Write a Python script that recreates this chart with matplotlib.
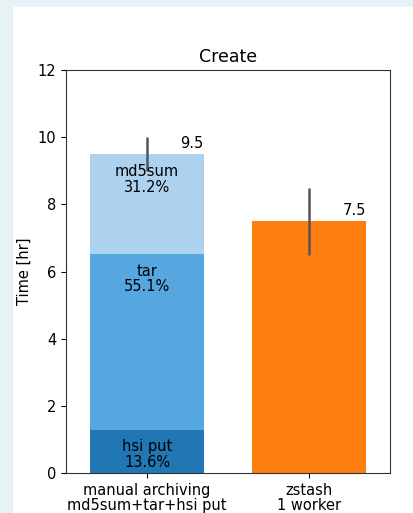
import matplotlib.pyplot as plt
from matplotlib.patches import Rectangle

# time breakdown for manual archiving, total vs zstash
categories = ['manual archiving\nmd5sum+tar+hsi put', 'zstash\n1 worker']
totals = [9.5, 7.5]
errors = [0.5, 1.0]
steps = ['hsi put', 'tar', 'md5sum']
step_pct = [13.6, 55.1, 31.2]
step_colors = ['#2077b4', '#56a6e0', '#acd2f0']

fs = 10.5

fig = plt.figure(figsize=(4.13, 5.13), dpi=100)
fig.patch.set_facecolor('#e6f2f5')
fig.add_artist(Rectangle((13 / 413, 0), 1, 1 - 7 / 513, transform=fig.transFigure,
                         facecolor='white', edgecolor='none', zorder=-10))

ax = fig.add_axes([66 / 413, 40 / 513, 324 / 413, 403 / 513])

width = 0.7
bottom = 0
for name, pct, c in zip(steps, step_pct, step_colors):
    h = totals[0] * pct / 100
    ax.bar(0, h, width, bottom=bottom, color=c)
    ax.annotate('%s\n%.1f%%' % (name, pct), (0, bottom + h), xytext=(0, -7),
                textcoords='offset points', ha='center', va='top', fontsize=fs,
                linespacing=1.05)
    bottom += h

ax.bar(1, totals[1], width, color='#ff7f0e')
ax.errorbar([0, 1], totals, yerr=errors, fmt='none', ecolor='#555555', elinewidth=1.8)

for i, t in enumerate(totals):
    ax.text(i + width / 2, t + 0.1, '%.1f' % t, ha='right', va='bottom', fontsize=fs)

ax.set_xlim(-0.5, 1.5)
ax.set_ylim(0, 12)
ax.set_xticks([0, 1])
ax.set_xticklabels(categories, fontsize=fs, linespacing=1.05)
ax.set_yticks(range(0, 13, 2))
ax.tick_params(labelsize=fs)
ax.set_ylabel('Time [hr]', fontsize=fs)
ax.set_title('Create', fontsize=12.5)
for s in ax.spines.values():
    s.set_color('#333333')

fig.savefig('out.png', dpi=100, facecolor=fig.get_facecolor())
